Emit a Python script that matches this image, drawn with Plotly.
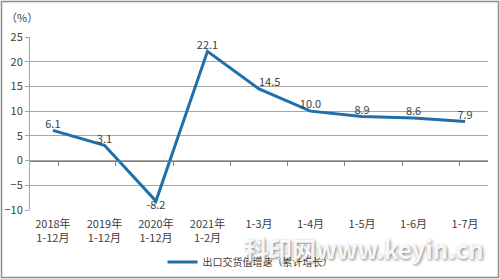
import plotly.graph_objects as go

categories = ["2018年<br>1-12月", "2019年<br>1-12月", "2020年<br>1-12月", "2021年<br>1-2月",
              "1-3月", "1-4月", "1-5月", "1-6月", "1-7月"]
values = [6.1, 3.1, -8.2, 22.1, 14.5, 10.0, 8.9, 8.6, 7.9]
labels = ["6.1", "3.1", "-8.2", "22.1", "14.5", "10.0", "8.9", "8.6", "7.9"]
label_pos = ["top center", "top center", "bottom center", "top center", "top right",
             "top center", "top center", "top center", "top center"]
series_name = "出口交货值增速（累计增长）"
y_ticks = [-10, -5, 0, 5, 10, 15, 20, 25]

W, H = 500, 279
ML, MR, MT, MB = 30, 12, 37, 69
FONT = "Noto Sans CJK SC"
TXT = "#404040"

fig = go.Figure()
fig.add_trace(go.Scatter(
    x=categories, y=values, mode="lines+text", name=series_name,
    line=dict(color="#1F6FAB", width=3),
    text=labels, textposition=label_pos,
    textfont=dict(family=FONT, size=11, color=TXT),
    cliponaxis=False,
))
# invisible trace on overlay axis for zero-line ticks
fig.add_trace(go.Scatter(x=categories, y=values, xaxis="x2", mode="none",
                         showlegend=False, hoverinfo="skip"))

pw = W - ML - MR
ph = H - MT - MB
def px_x(p): return (p - ML) / pw
def px_y(p): return (H - MB - p) / ph

fig.update_layout(
    width=W, height=H,
    margin=dict(l=ML, r=MR, t=MT, b=MB, autoexpand=False),
    paper_bgcolor="white", plot_bgcolor="white",
    font=dict(family=FONT, size=11, color=TXT),
    showlegend=True,
    legend=dict(orientation="h", x=0.5, xref="container", xanchor="center",
                y=1 - 262 / H, yref="container", yanchor="middle",
                font=dict(family=FONT, size=10, color=TXT), itemwidth=30,
                bgcolor="rgba(0,0,0,0)"),
    xaxis=dict(type="category", showgrid=False, showline=False, zeroline=False,
               ticks="", ticklabelstandoff=6, automargin=False,
               tickfont=dict(family=FONT, size=11, color=TXT)),
    xaxis2=dict(type="category", overlaying="x", anchor="free",
                position=(0 - y_ticks[0]) / (y_ticks[-1] - y_ticks[0]),
                showline=True, linecolor="#808080", linewidth=1,
                ticks="outside", tickson="boundaries", ticklen=4, tickcolor="#808080",
                showticklabels=False, showgrid=False),
    yaxis=dict(range=[y_ticks[0], y_ticks[-1]], tickvals=y_ticks, automargin=False,
               showgrid=True, gridcolor="#A6A6A6", gridwidth=1,
               zeroline=False, showline=True, linecolor="#A6A6A6", linewidth=1,
               ticks="outside", ticklen=4, tickcolor="#A6A6A6",
               tickfont=dict(family=FONT, size=11, color=TXT)),
    annotations=[
        dict(text="（%）", xref="paper", yref="paper", x=px_x(4), y=px_y(17),
             xanchor="left", yanchor="middle", showarrow=False,
             font=dict(family=FONT, size=11, color=TXT)),
        dict(text="<b>科印网www.keyin.cn</b>", xref="paper", yref="paper",
             x=px_x(364), y=px_y(248), xanchor="center", yanchor="middle",
             showarrow=False,
             font=dict(family=FONT, size=24, color="rgba(255,255,255,0.92)",
                       shadow="1px 1px 3px rgba(0,0,0,0.55)")),
    ],
    shapes=[dict(type="rect", xref="paper", yref="paper",
                 x0=px_x(1.5), x1=px_x(498.5), y0=px_y(277.5), y1=px_y(1.5),
                 line=dict(color="#8C8C8C", width=1.5), layer="below")],
)

fig.write_html("out.html")
